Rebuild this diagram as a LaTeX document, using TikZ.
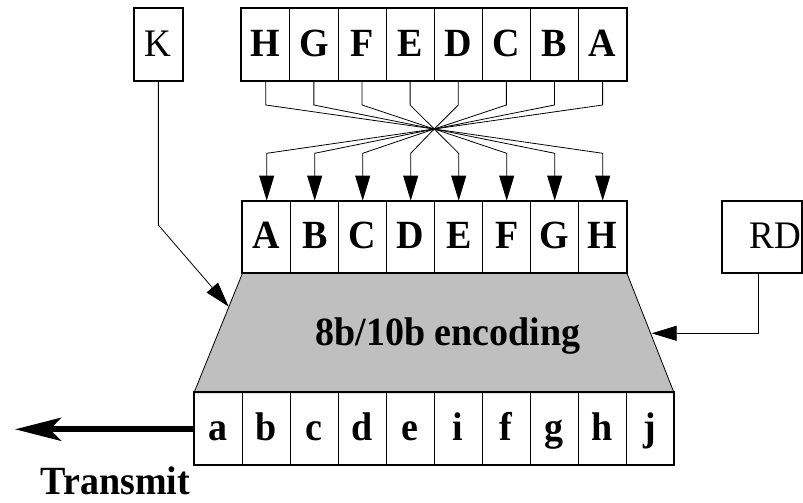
\documentclass[tikz,border=0pt]{standalone}
\usepackage{fontspec}
\setmainfont{Liberation Serif}
\newfontfamily\tallfont[FakeStretch=0.95]{Liberation Serif}
\usetikzlibrary{arrows.meta}
\begin{document}
\begin{tikzpicture}[x=1pt,y=-1pt,
  bigfont/.style={font=\tallfont\fontsize{40}{42}\selectfont\bfseries},
  cell/.style={draw, line width=0.8pt, inner sep=0pt, text height=27pt, text depth=3pt, bigfont},
  plainbox/.style={draw, line width=2pt, inner sep=0pt, text height=27pt, text depth=3pt, font=\tallfont\fontsize{39}{41}\selectfont},
  outer/.style={line width=2pt},
  conn/.style={line width=0.8pt, -{Triangle[length=25pt,width=15pt]}},
  thickarrow/.style={line width=6pt, -{Stealth[length=46pt,width=23pt,inset=11pt]}}
]
\useasboundingbox (0,0) rectangle (803,503);

% encoder trapezoid
\filldraw[fill=gray!50, line width=0.8pt] (242.7,272.7) -- (626.7,272.7) -- (674,392.7) -- (194,392.7) -- cycle;
\node[bigfont, anchor=base] (enc) at (448,345) {8b/10b encoding};

% top register
\foreach \l [count=\i from 0] in {H,G,F,E,D,C,B,A}
  \node[cell, minimum width=48.125pt, minimum height=72.7pt] (t\i) at ({241.7+48.125*(\i+0.5)},44.65) {\l};
\draw[outer] (t0.north west) rectangle (t7.south east);

% middle register
\foreach \l [count=\i from 0] in {A,B,C,D,E,F,G,H}
  \node[cell, minimum width=48pt, minimum height=71.7pt] (m\i) at ({242.7+48*(\i+0.5)},236.85) {\l};
\draw[outer] (m0.north west) rectangle (m7.south east);

% bottom register
\foreach \l [count=\i from 0] in {a,b,c,d,e,i,f,g,h,j}
  \node[cell, minimum width=48pt, minimum height=72.3pt] (b\i) at ({194+48*(\i+0.5)},428.85) {\l};
\draw[outer] (b0.north west) rectangle (b9.south east);

% K and RD
\node[plainbox, minimum width=48.7pt, minimum height=72.7pt] (K) at (158.35,44.65) {K};
\node[plainbox, minimum width=80pt, minimum height=72pt, text width=77pt, align=right] (RD) at (762.3,236.7) {RD};

% crossing connectors
\coordinate (X) at (434.2,129);
\foreach \i in {0,...,7} {
  \pgfmathtruncatemacro{\j}{7-\i}
  \draw[conn] (t\i.south) -- (t\i.south |- 0,105) -- (X) -- (m\j.north |- 0,153.3) -- (m\j.north);
}

% K connector
\coordinate (ktip) at (228.6,306.5);
\draw[conn] (K.south) -- (K.south |- 0,225) -- (ktip);

% RD connector
\coordinate (rdtip) at (651.7,333.3);
\draw[conn] (RD.south -| 758.7,0) -- (758.7,333.3) -- (rdtip);

% transmit
\coordinate (tx) at (15,429.3);
\draw[thickarrow] (b0.west |- 0,429.3) -- (tx);
\node[bigfont, anchor=base] (tr) at (115.5,494) {Transmit};
\end{tikzpicture}
\end{document}
